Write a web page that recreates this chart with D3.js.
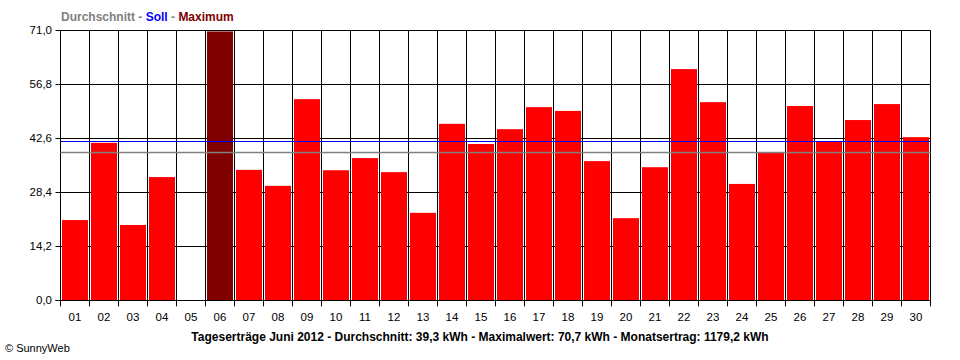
<!DOCTYPE html>
<html><head><meta charset="utf-8">
<script src="https://cdn.jsdelivr.net/npm/d3@7/dist/d3.min.js"></script>
<style>body{margin:0;background:#fff}svg{display:block}text{font-family:Arial,"Liberation Sans",sans-serif}</style>
</head><body><svg id="c" width="960" height="360"></svg>
<script>
const days = ["01","02","03","04","05","06","07","08","09","10","11","12","13","14","15","16","17","18","19","20","21","22","23","24","25","26","27","28","29","30"];
const yields = [21.1,41.4,19.8,32.4,0,70.7,34.3,30.1,52.9,34.2,37.4,33.7,23.0,46.4,41.1,45.0,50.8,49.8,36.6,21.6,35.0,60.8,52.1,30.6,38.9,51.1,41.7,47.4,51.6,42.9];
const yTicks = [0,14.2,28.4,42.6,56.8,71.0];
const sollValue = 41.8;
const avgLine = 38.9;
const yMax = 71.0;
const title = "Tageserträge Juni 2012 - Durchschnitt: 39,3 kWh - Maximalwert: 70,7 kWh - Monatsertrag: 1179,2 kWh";
const legend = [{t:"Durchschnitt",c:"#808080"},{t:" - ",c:"#808080"},{t:"Soll",c:"#0000ff"},{t:" - ",c:"#808080"},{t:"Maximum",c:"#800000"}];

const svg = d3.select("#c");
const L=60.5, R=930.5, T=30.3, B=300.3;
const x = d3.scaleBand().domain(days).range([L,R]).padding(0);
const y = d3.scaleLinear().domain([0,yMax]).range([B,T]);
const maxV = d3.max(yields);

// horizontal grid (behind bars)
svg.append("g").selectAll("line").data(yTicks).join("line")
  .attr("x1",L-5).attr("x2",R).attr("y1",d=>Math.round(y(d))+0.5).attr("y2",d=>Math.round(y(d))+0.5)
  .attr("stroke","#000").attr("stroke-width",1);

// bars
svg.append("g").selectAll("rect").data(yields).join("rect")
  .attr("x",(d,i)=>x(days[i])+1.5).attr("width",x.bandwidth()-3)
  .attr("y",d=>y(d)).attr("height",d=>B-y(d))
  .attr("fill",d=>d===maxV?"#800000":"#ff0000");

// vertical grid
const vx = days.map(d=>x(d)).concat([R]);
svg.append("g").selectAll("line").data(vx).join("line")
  .attr("x1",d=>Math.floor(d)+0.5).attr("x2",d=>Math.floor(d)+0.5)
  .attr("y1",T).attr("y2",B+6).attr("stroke","#000").attr("stroke-width",1);
// baseline
svg.append("line").attr("x1",L-5).attr("x2",R).attr("y1",Math.round(B)+0.5).attr("y2",Math.round(B)+0.5).attr("stroke","#000");

// soll & average
svg.append("line").attr("x1",L).attr("x2",R).attr("y1",Math.round(y(sollValue))+0.5).attr("y2",Math.round(y(sollValue))+0.5).attr("stroke","#0000ff");
svg.append("line").attr("x1",L).attr("x2",R).attr("y1",Math.round(y(avgLine))+0.5).attr("y2",Math.round(y(avgLine))+0.5).attr("stroke","#808080").attr("stroke-width",1.5);

// y labels
svg.append("g").selectAll("text").data(yTicks).join("text")
  .attr("x",52).attr("y",d=>y(d)+4).attr("text-anchor","end")
  .attr("font-size",11.5).attr("fill","#000").text(d=>d.toFixed(1).replace(".",","));
// x labels
svg.append("g").selectAll("text").data(days).join("text")
  .attr("x",d=>x(d)+x.bandwidth()/2).attr("y",321).attr("text-anchor","middle")
  .attr("font-size",11.5).attr("fill","#000").text(d=>d);

// legend
const lt = svg.append("text").attr("x",61).attr("y",21).attr("font-size",12).attr("font-weight","bold");
legend.forEach(p=>lt.append("tspan").attr("fill",p.c).text(p.t));

// title
svg.append("text").attr("x",480).attr("y",341).attr("text-anchor","middle")
  .attr("font-size",12).attr("font-weight","bold").attr("fill","#000").text(title);
// copyright
svg.append("text").attr("x",5).attr("y",352).attr("font-size",11).attr("fill","#000").text("© SunnyWeb");
</script></body></html>
